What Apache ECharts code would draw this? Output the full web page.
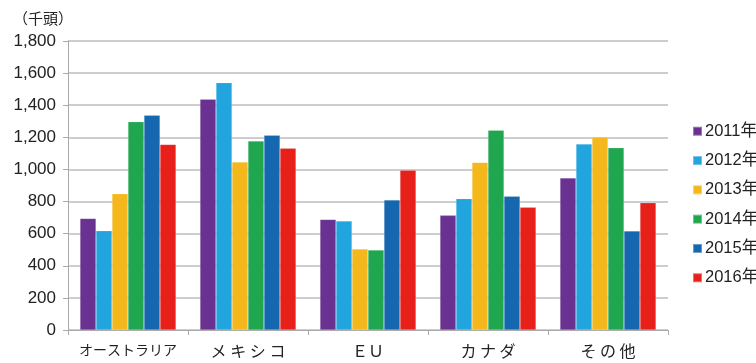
<!DOCTYPE html>
<html>
<head>
<meta charset="utf-8">
<script src="https://cdn.jsdelivr.net/npm/echarts@6/dist/echarts.min.js"></script>
<style>
  html, body { margin: 0; padding: 0; background: #fff; }
  #chart { width: 756px; height: 363px; }
</style>
</head>
<body>
<div id="chart"></div>
<script>
// 地域別の輸入頭数（千頭）
const categories = ['オーストラリア', 'メ キ シ コ', 'ＥＵ', 'カ ナ ダ', 'そ の 他'];
const years = ['2011年', '2012年', '2013年', '2014年', '2015年', '2016年'];
const v2011 = [695, 1437, 689, 714, 947];
const v2012 = [618, 1540, 679, 818, 1158];
const v2013 = [849, 1046, 504, 1044, 1202];
const v2014 = [1297, 1177, 498, 1244, 1135];
const v2015 = [1337, 1213, 810, 833, 617];
const v2016 = [1156, 1132, 995, 764, 793];
const yTicks = [0, 200, 400, 600, 800, 1000, 1200, 1400, 1600, 1800];

const colors = ['#6a3290', '#22a4de', '#f5b81c', '#1fa64f', '#1568b0', '#e8201a'];
const values = [v2011, v2012, v2013, v2014, v2015, v2016];

const myChart = echarts.init(document.getElementById('chart'));

const option = {
  animation: false,
  color: colors,
  textStyle: { fontFamily: '"Liberation Sans", "Noto Sans CJK JP", sans-serif' },
  title: {
    text: '（千頭）',
    left: 8,
    top: 6,
    textStyle: { fontSize: 15, fontWeight: 'normal', color: '#222', fontFamily: '"Noto Sans CJK JP", sans-serif' }
  },
  grid: { left: 68, right: 88, top: 41, bottom: 33 },
  legend: {
    orient: 'vertical',
    left: 687,
    top: 118,
    itemWidth: 9,
    itemHeight: 9,
    itemGap: 12.8,
    icon: 'rect',
    textStyle: { fontSize: 16.5, color: '#222', lineHeight: 16, padding: [0, 0, 0, -2] },
    data: years
  },
  xAxis: {
    type: 'category',
    data: categories,
    axisLine: { lineStyle: { color: '#aaa', width: 1 } },
    axisTick: { show: true, length: 5, lineStyle: { color: '#aaa' } },
    axisLabel: {
      interval: 0,
      margin: 13,
      fontSize: 16,
      color: '#222',
      fontFamily: '"Noto Sans CJK JP", sans-serif',
      formatter: function (v) {
        return v === 'オーストラリア' ? '{s|' + v + '}' : v;
      },
      rich: { s: { fontSize: 14, color: '#222', fontFamily: '"Noto Sans CJK JP", sans-serif' } }
    }
  },
  yAxis: {
    type: 'value',
    min: 0,
    max: 1800,
    interval: 200,
    axisLine: { show: true, lineStyle: { color: '#aaa' } },
    axisTick: { show: true, length: 5, lineStyle: { color: '#aaa' } },
    splitLine: { lineStyle: { color: '#bdbdbd', width: 1.5 } },
    axisLabel: {
      margin: 12,
      fontSize: 17,
      color: '#222',
      formatter: function (v) {
        return yTicks.indexOf(v) >= 0 ? v.toLocaleString('en-US') : '';
      }
    }
  },
  series: years.map((name, i) => ({
    name: name,
    type: 'bar',
    data: values[i],
    barGap: '0%',
    barCategoryGap: '20%',
    itemStyle: { color: colors[i], borderColor: 'rgba(255,255,255,0.35)', borderWidth: 0.5 }
  }))
};

myChart.setOption(option);
</script>
</body>
</html>
